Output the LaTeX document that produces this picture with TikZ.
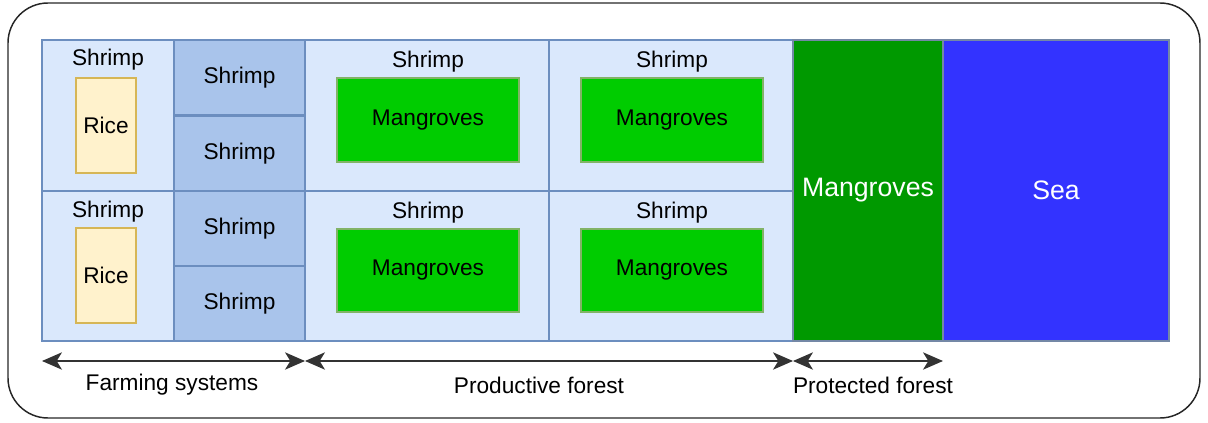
\documentclass[tikz,border=0pt]{standalone}
\usepackage{fontspec}
\setmainfont{Liberation Sans}
\definecolor{cellBlue}{HTML}{DAE8FC}
\definecolor{pondBlue}{HTML}{A9C4EB}
\definecolor{edgeBlue}{HTML}{6C8EBF}
\definecolor{riceFill}{HTML}{FFF2CC}
\definecolor{riceEdge}{HTML}{D6B656}
\definecolor{mGreen}{HTML}{00CC00}
\definecolor{groveEdge}{HTML}{82B366}
\definecolor{mDarkGreen}{HTML}{009900}
\definecolor{seaBlue}{HTML}{3333FF}
\usetikzlibrary{positioning,arrows.meta,fit}

\begin{document}
\begin{tikzpicture}[x=0.75pt,y=-0.75pt,font=\fontsize{17}{20}\selectfont,
  cell/.style={draw=edgeBlue,fill=cellBlue,line width=1pt,inner sep=0pt},
  pond/.style={cell,fill=pondBlue},
  rice/.style={draw=riceEdge,fill=riceFill,line width=0.9pt,inner sep=0pt},
  grove/.style={draw=groveEdge,fill=mGreen,line width=0.9pt,inner sep=0pt},
  zone/.style={draw=edgeBlue!60!gray,line width=0.9pt,inner sep=0pt},
  bigtxt/.style={text=white,font=\fontsize{20}{24}\selectfont},
  span/.style={>={Stealth[length=15pt,width=13pt,inset=4pt]},<->,line width=1.1pt,black!80}]
\useasboundingbox (0,0) rectangle (1208,422);
\draw[line width=1.1pt,black!85,rounded corners=30pt] (8,3) rectangle (1200,418);
% farming systems
\node[cell,fit={(42,40) (174,191)}] (farmT) {};
\node[cell,fit={(42,191) (174,341)}] (farmB) {};
\node at (108,60) (shT) {Shrimp};
\node at (108,212) (shB) {Shrimp};
\node[rice,fit={(76,78) (136,173)}] (riceT) {};
\node[rice,fit={(76,228) (136,323)}] (riceB) {};
\node at (riceT) {Rice};
\node at (riceB) {Rice};
\foreach \y/\n in {40/A,116/B,191/C,266/D} {
  \node[pond,fit={(174,\y) (305,\y+75)}] (pond\n) {};
  \node at (pond\n) {Shrimp};
}
% productive forest
\foreach \x/\n in {305/1,549/2} {
  \node[cell,fit={(\x,40) (\x+244,191)}] (prodT\n) {};
  \node[cell,fit={(\x,191) (\x+244,341)}] (prodB\n) {};
  \node at (\x+123,62) (shpT\n) {Shrimp};
  \node at (\x+123,213) (shpB\n) {Shrimp};
  \node[grove,fit={(\x+32,78) (\x+214,162)}] (groveT\n) {};
  \node[grove,fit={(\x+32,229) (\x+214,312)}] (groveB\n) {};
  \node at (groveT\n) {Mangroves};
  \node at (groveB\n) {Mangroves};
}
% protected forest and sea
\node[zone,fill=mDarkGreen,fit={(793,40) (943,341)}] (protect) {};
\node[zone,fill=seaBlue,fit={(943,40) (1169,341)}] (sea) {};
\node[bigtxt] at (protect) {Mangroves};
\node[bigtxt] at (sea) {Sea};
% spans
\coordinate (s0) at (42,361);
\coordinate (s1) at (305,361);
\coordinate (s2) at (793,361);
\coordinate (s3) at (943,361);
\draw[span] (s0) -- (s1);
\draw[span] (s1) -- (s2);
\draw[span] (s2) -- (s3);
\node at (172,385) (lblFarm) {Farming systems};
\node at (539,385) (lblProd) {Productive forest};
\node at (873,385) (lblProt) {Protected forest};
\end{tikzpicture}
\end{document}
